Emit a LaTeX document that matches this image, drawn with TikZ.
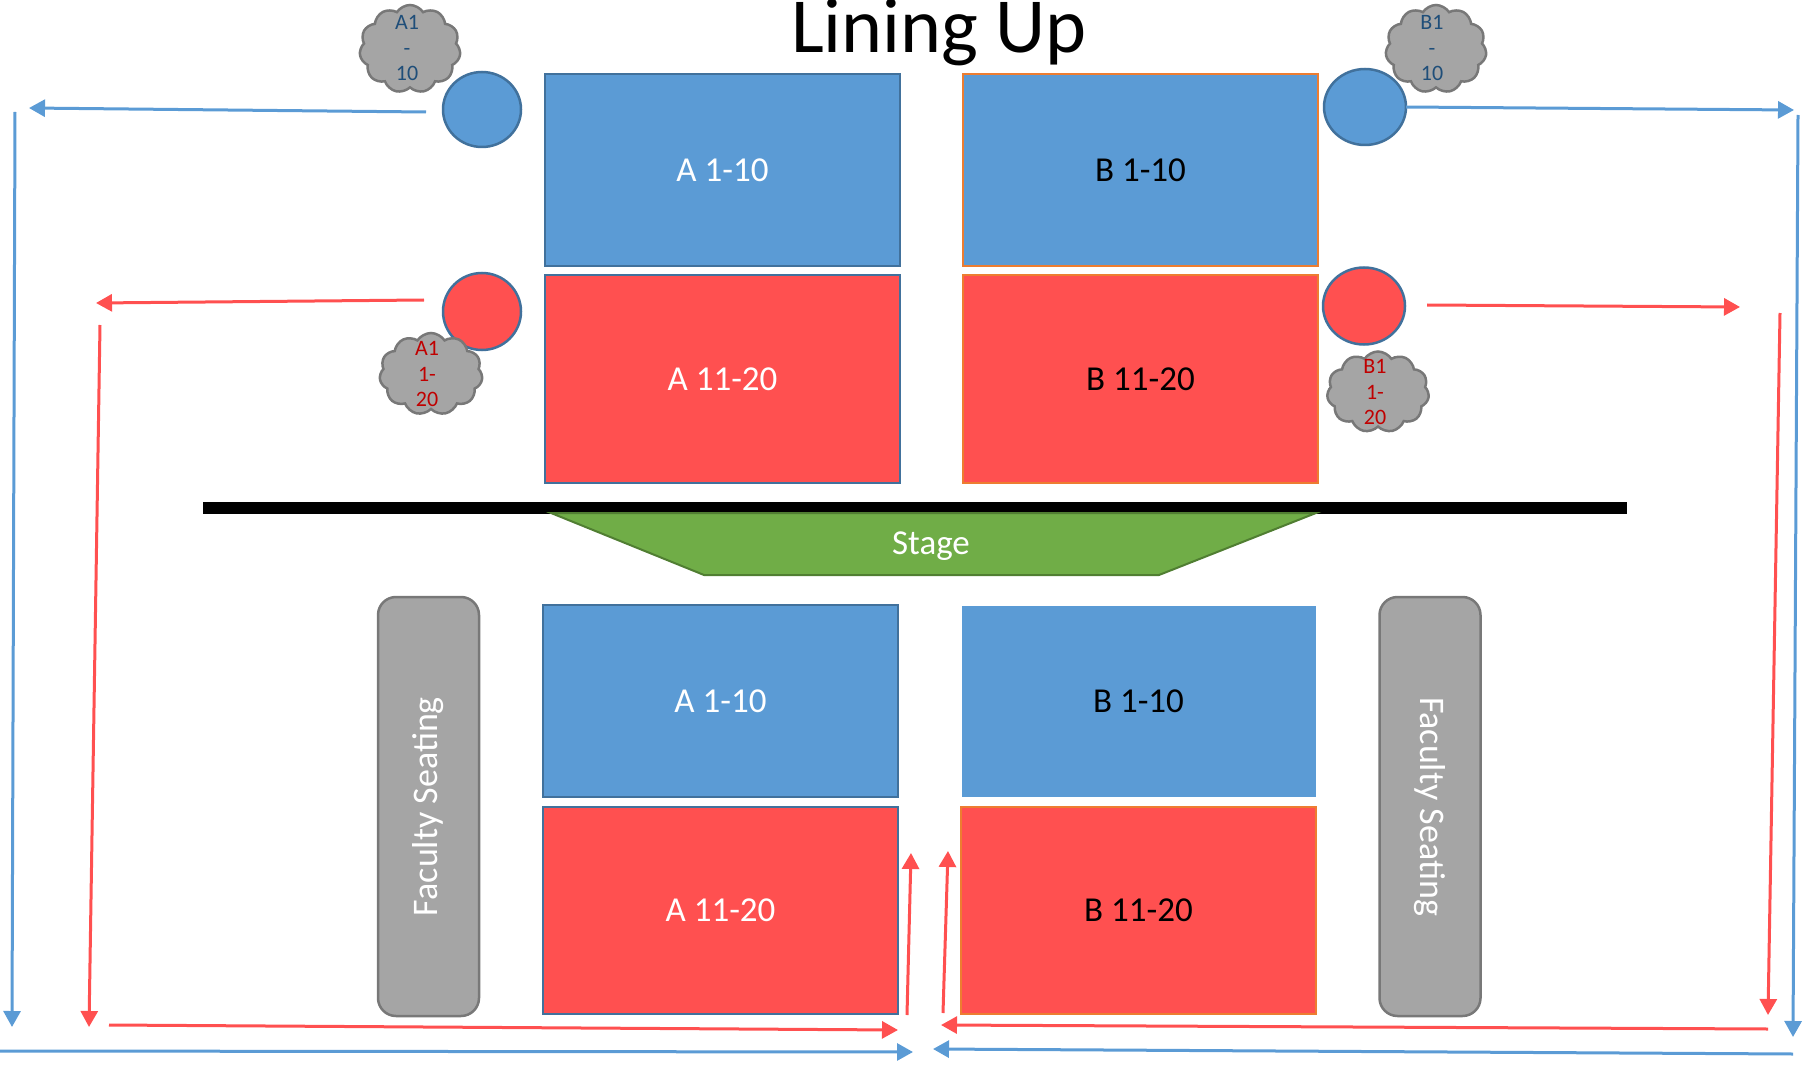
\documentclass[tikz,border=0pt]{standalone}
\usepackage{fontspec}
\setmainfont{Carlito}
\usetikzlibrary{arrows.meta,shapes.geometric,shapes.symbols}

\definecolor{seatblue}{HTML}{5B9BD5}
\definecolor{seatred}{HTML}{FF5050}
\definecolor{edgeblue}{HTML}{41719C}
\definecolor{edgeorange}{HTML}{ED7D31}
\definecolor{stagegreen}{HTML}{70AD47}
\definecolor{stageedge}{HTML}{507E32}
\definecolor{facgray}{HTML}{A5A5A5}
\definecolor{facedge}{HTML}{787878}
\definecolor{tagblue}{HTML}{1F4E79}
\definecolor{tagred}{HTML}{C00000}

\tikzset{
  block/.style={rectangle, minimum width=355pt, inner sep=0pt, font=\fontsize{35}{42}\selectfont},
  blueblock/.style={block, fill=seatblue, minimum height=192pt},
  redblock/.style={block, fill=seatred, minimum height=208pt},
  aedge/.style={draw=edgeblue, line width=2.5pt, text=white},
  bedge/.style={draw=edgeorange, line width=1.5pt, text=black},
  spot/.style={ellipse, draw=edgeblue, line width=2.5pt, inner sep=0pt},
  puff/.style={cloud, cloud puffs=11, cloud puff arc=115, cloud ignores aspect, fill=facgray, draw=facedge, line width=2.5pt, inner sep=0pt},
  tag/.style={align=center, inner sep=0pt, font=\fontsize{22}{25.5}\selectfont},
  faculty/.style={rectangle, rounded corners=18pt, fill=facgray, draw=facedge, line width=2.5pt, minimum width=419pt, minimum height=101pt, text=white, font=\fontsize{36}{43}\selectfont},
  bluearrow/.style={draw=seatblue, line width=3pt, -{Triangle[width=17pt,length=16pt]}},
  redarrow/.style={draw=seatred, line width=3pt, -{Triangle[width=17pt,length=16pt]}}
}

\begin{document}
\begin{tikzpicture}[x=1pt, y=-1pt]
    \useasboundingbox (0,0) rectangle (1807,1067);

    \node[anchor=base, font=\fontsize{78}{92}\selectfont] (title) at (939,53) {Lining Up};

    \node[blueblock, aedge] (topA1) at (722.5,170) {A 1-10};
    \node[redblock, aedge] (topA2) at (722.5,379) {A 11-20};
    \node[blueblock, bedge] (topB1) at (1140.5,170) {B 1-10};
    \node[redblock, bedge] (topB2) at (1140.5,379) {B 11-20};

    \node[spot, fill=seatblue, minimum width=78pt, minimum height=75pt] (spotA1) at (482,109.5) {};
    \node[spot, fill=seatred, minimum width=78pt, minimum height=77pt] (spotA2) at (482,311.5) {};
    \node[spot, fill=seatblue, minimum width=82pt, minimum height=76pt] (spotB1) at (1365,107) {};
    \node[spot, fill=seatred, minimum width=82pt, minimum height=77pt] (spotB2) at (1364,306) {};

    \node[puff, minimum width=101pt, minimum height=88pt] (puffA1) at (410,49) {};
    \node[tag, text=tagblue] (tagA1) at (407,48) {A1\\-\\10};
    \node[puff, minimum width=103pt, minimum height=82pt] (puffA2) at (431,374) {};
    \node[tag, text=tagred] (tagA2) at (427,374) {A1\\1-\\20};
    \node[puff, minimum width=101pt, minimum height=88pt] (puffB1) at (1436,49) {};
    \node[tag, text=tagblue] (tagB1) at (1432,48) {B1\\-\\10};
    \node[puff, minimum width=102pt, minimum height=81pt] (puffB2) at (1378,392) {};
    \node[tag, text=tagred] (tagB2) at (1375,392) {B1\\1-\\20};

    \fill[black] (203,502) rectangle (1627,514);
    \draw[fill=stagegreen, draw=stageedge, line width=2pt] (551,513) -- (1316,513) -- (1159,575) -- (704,575) -- cycle;
    \node[text=white, font=\fontsize{35}{42}\selectfont] (stage) at (931,546) {Stage};

    \node[faculty, rotate=90] (facL) at (428.5,806.5) {Faculty Seating};
    \node[faculty, rotate=-90] (facR) at (1430,806.5) {Faculty Seating};

    \node[blueblock, aedge] (lowA1) at (720.5,701) {A 1-10};
    \node[redblock, aedge, minimum height=207pt] (lowA2) at (720.5,910.5) {A 11-20};
    \node[blueblock, draw=white, line width=1pt] (lowB1) at (1138.5,701) {B 1-10};
    \node[redblock, bedge, minimum height=207pt] (lowB2) at (1138.5,910.5) {B 11-20};

    \draw[bluearrow] (426,112) -- (29,108);
    \draw[bluearrow] (15,112) -- (12,1027);
    \draw[bluearrow] (0,1051) -- (913,1052);
    \draw[bluearrow] (1406,107) -- (1794,110);
    \draw[bluearrow] (1798,115) -- (1793,1037);
    \draw[bluearrow] (1793,1054) -- (933,1049);

    \draw[redarrow] (424,300) -- (96,303);
    \draw[redarrow] (100,325) -- (89,1027);
    \draw[redarrow] (109,1025) -- (898,1030);
    \draw[redarrow] (907,1015) -- (911,853);
    \draw[redarrow] (943,1013) -- (948,851);
    \draw[redarrow] (1768,1029) -- (941,1025);
    \draw[redarrow] (1427,305) -- (1740,307);
    \draw[redarrow] (1780,313) -- (1768,1015);
\end{tikzpicture}
\end{document}
